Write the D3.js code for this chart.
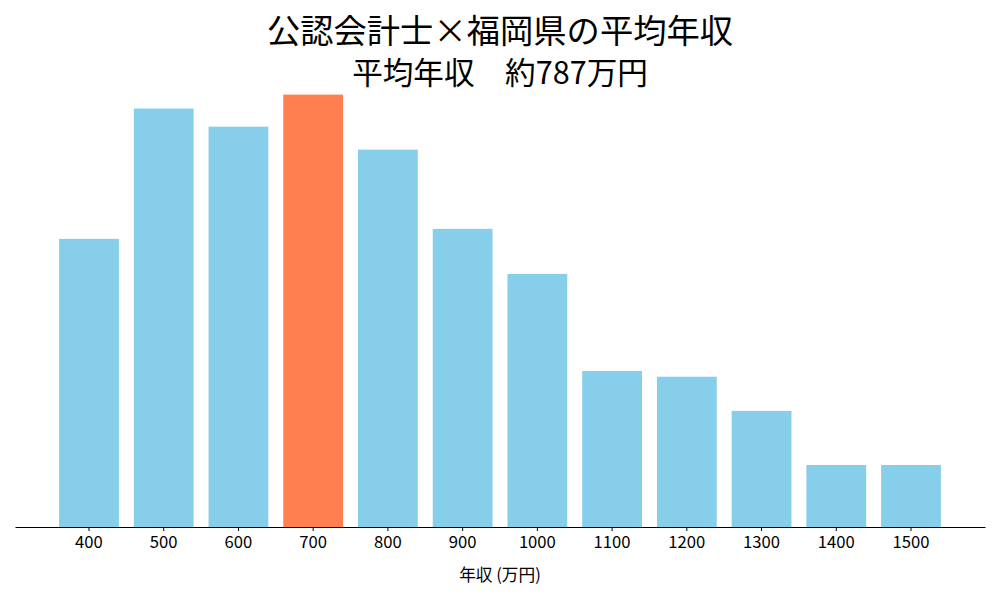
<!DOCTYPE html>
<html>
<head>
<meta charset="utf-8">
<script src="https://cdn.jsdelivr.net/npm/d3@7"></script>
<style>
  body { margin: 0; background: #fff; }
  text { font-family: "Noto Sans CJK JP", sans-serif; fill: #000; }
</style>
</head>
<body>
<div id="chart"></div>
<script>
const categories = ["400", "500", "600", "700", "800", "900", "1000", "1100", "1200", "1300", "1400", "1500"];
const shares = [9.53, 13.84, 13.24, 14.3, 12.48, 9.86, 8.37, 5.16, 4.97, 3.84, 2.05, 2.05];
const highlight = "700";
const titleText = "公認会計士×福岡県の平均年収";
const subtitleText = "平均年収　約787万円";
const xLabel = "年収 (万円)";

const width = 1000;
const height = 600;
const margin = { top: 73, right: 15, bottom: 73, left: 15 };

const svg = d3.select("#chart")
    .append("svg")
    .attr("width", width)
    .attr("height", height);

const x = d3.scaleBand()
    .domain(categories)
    .range([margin.left, width - margin.right])
    .paddingInner(0.2)
    .paddingOuter(0.59);

const y = d3.scaleLinear()
    .domain([0, d3.max(shares) * 1.05])
    .range([height - margin.bottom, margin.top]);

// 棒
svg.selectAll("rect")
    .data(categories)
    .enter()
    .append("rect")
    .attr("x", d => x(d))
    .attr("y", (d, i) => y(shares[i]))
    .attr("width", x.bandwidth())
    .attr("height", (d, i) => y(0) - y(shares[i]))
    .attr("fill", d => d === highlight ? "#FF7F50" : "#87CEEB");

// X 軸
const xAxis = svg.append("g")
    .attr("transform", `translate(0,${height - margin.bottom})`)
    .call(d3.axisBottom(x).tickSize(4).tickSizeOuter(0).tickPadding(5));
xAxis.attr("font-size", null).attr("font-family", null);
xAxis.select(".domain").attr("stroke", "#000").attr("stroke-width", 1.2);
xAxis.selectAll(".tick line").attr("stroke", "#000");
xAxis.selectAll(".tick text")
    .style("font-family", "'Noto Sans CJK JP', sans-serif")
    .style("font-size", "16.67px")
    .attr("fill", "#000");

// 軸ラベル
svg.append("text")
    .attr("x", (margin.left + width - margin.right) / 2)
    .attr("y", 581)
    .attr("text-anchor", "middle")
    .style("font-size", "16.67px")
    .text(xLabel);

// タイトル（2行）
svg.append("text")
    .attr("x", width / 2)
    .attr("y", 43)
    .attr("text-anchor", "middle")
    .style("font-size", "33.3px")
    .text(titleText);

svg.append("text")
    .attr("x", width / 2)
    .attr("y", 84)
    .attr("text-anchor", "middle")
    .style("font-size", "30.6px")
    .text(subtitleText);
</script>
</body>
</html>
